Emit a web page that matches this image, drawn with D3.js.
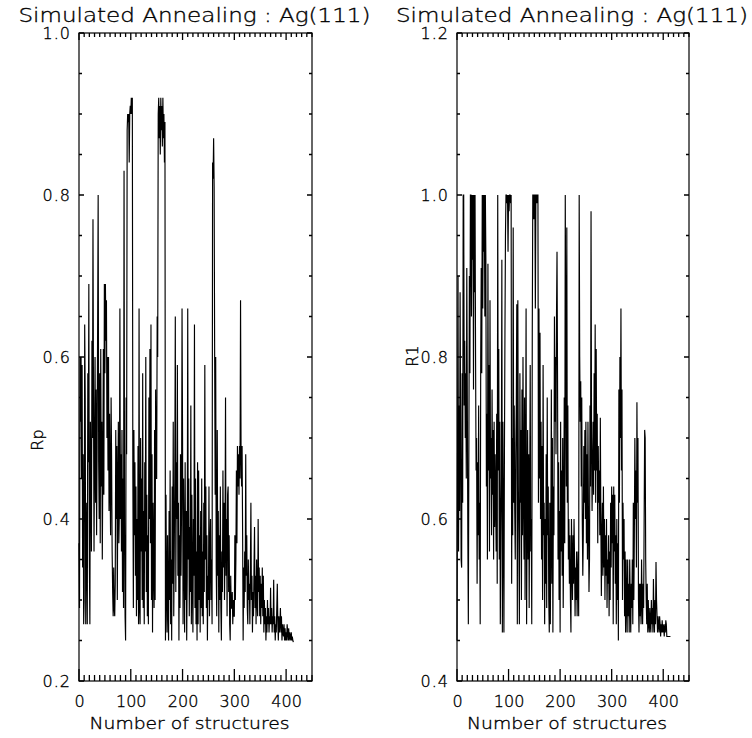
<!DOCTYPE html>
<html>
<head>
<meta charset="utf-8">
<script src="https://cdn.jsdelivr.net/npm/d3@7"></script>
<style>
  html, body { margin: 0; padding: 0; background: #fff; }
  svg { display: block; }
  text { font-family: "DejaVu Sans", sans-serif; font-weight: 200; fill: #000; stroke: #000; stroke-width: 0.35px; }
</style>
</head>
<body>
<svg id="chart" width="752" height="738"></svg>
<script>
// Number of structures on the x axis (shared by both panels)
const xTicks = [0, 100, 200, 300, 400];
const rpTicks = [0.2, 0.4, 0.6, 0.8, 1.0];
const r1Ticks = [0.4, 0.6, 0.8, 1.0, 1.2];
const panelTitle = "Simulated Annealing : Ag(111)";
const xTitle = "Number of structures";

// Pendry R-factor of each structure visited by the annealing run
const rpValues = [
  0.37,0.29,0.60,0.52,0.60,0.45,0.59,0.34,0.48,0.27,
  0.30,0.64,0.55,0.27,0.42,0.36,0.27,0.58,0.47,0.69,
  0.35,0.27,0.52,0.44,0.36,0.62,0.50,0.77,0.55,0.36,
  0.48,0.60,0.42,0.56,0.38,0.49,0.64,0.80,0.47,0.40,
  0.58,0.37,0.61,0.44,0.52,0.35,0.46,0.61,0.43,0.69,
  0.58,0.69,0.62,0.67,0.50,0.60,0.46,0.60,0.41,0.53,
  0.44,0.38,0.55,0.47,0.36,0.31,0.28,0.34,0.29,0.28,
  0.32,0.51,0.40,0.49,0.30,0.44,0.52,0.37,0.41,0.66,
  0.40,0.48,0.36,0.51,0.31,0.45,0.29,0.83,0.40,0.28,
  0.25,0.55,0.48,0.88,0.90,0.89,0.90,0.84,0.90,0.91,
  0.90,0.92,0.90,0.92,0.45,0.29,0.51,0.38,0.47,0.33,
  0.44,0.28,0.40,0.30,0.49,0.27,0.66,0.29,0.27,0.50,
  0.36,0.45,0.30,0.58,0.29,0.41,0.27,0.47,0.36,0.60,
  0.31,0.43,0.28,0.38,0.27,0.55,0.40,0.61,0.37,0.64,
  0.30,0.48,0.26,0.42,0.34,0.29,0.51,0.30,0.56,0.45,
  0.45,0.65,0.60,0.90,0.92,0.87,0.91,0.85,0.92,0.88,
  0.91,0.86,0.92,0.87,0.90,0.84,0.89,0.25,0.43,0.31,
  0.26,0.38,0.29,0.25,0.41,0.30,0.46,0.27,0.35,0.25,
  0.44,0.32,0.52,0.28,0.36,0.45,0.65,0.31,0.47,0.40,
  0.59,0.33,0.42,0.25,0.38,0.29,0.48,0.33,0.41,0.66,
  0.50,0.27,0.45,0.36,0.26,0.47,0.30,0.41,0.25,0.33,
  0.66,0.35,0.45,0.28,0.39,0.31,0.54,0.27,0.43,0.32,
  0.26,0.40,0.33,0.64,0.29,0.45,0.27,0.36,0.25,0.47,
  0.27,0.46,0.30,0.38,0.26,0.41,0.29,0.45,0.28,0.36,
  0.27,0.42,0.31,0.59,0.35,0.44,0.29,0.38,0.25,0.33,
  0.30,0.44,0.28,0.36,0.40,0.30,0.35,0.27,0.84,0.82,
  0.87,0.81,0.60,0.43,0.60,0.34,0.28,0.51,0.33,0.41,
  0.26,0.38,0.30,0.44,0.29,0.25,0.36,0.31,0.46,0.34,
  0.42,0.30,0.37,0.55,0.33,0.40,0.28,0.43,0.44,0.31,
  0.38,0.27,0.25,0.33,0.29,0.29,0.31,0.27,0.30,0.28,
  0.28,0.38,0.30,0.35,0.46,0.37,0.49,0.44,0.48,0.43,
  0.49,0.45,0.67,0.48,0.44,0.49,0.38,0.25,0.34,0.29,
  0.36,0.31,0.48,0.33,0.38,0.29,0.27,0.35,0.30,0.32,
  0.27,0.34,0.42,0.30,0.33,0.26,0.31,0.28,0.34,0.39,
  0.29,0.33,0.27,0.35,0.30,0.28,0.40,0.31,0.34,0.28,
  0.33,0.27,0.32,0.29,0.34,0.28,0.33,0.26,0.30,0.27,
  0.29,0.25,0.28,0.26,0.30,0.27,0.29,0.26,0.28,0.27,
  0.315,0.27,0.29,0.26,0.28,0.27,0.325,0.26,0.28,0.25,
  0.27,0.26,0.29,0.32,0.27,0.25,0.28,0.26,0.27,0.29,
  0.26,0.28,0.25,0.27,0.26,0.255,0.27,0.25,0.265,0.25,
  0.26,0.25,0.27,0.26,0.25,0.265,0.25,0.26,0.255,0.25,
  0.26,0.25,0.255,0.25,0.248
];

// R1 reliability factor of the same structures
const r1Values = [
  0.45,0.67,0.90,0.56,0.74,0.61,0.88,0.72,0.55,0.54,
  0.78,0.62,1.00,1.00,0.74,0.82,0.70,0.78,0.65,0.91,
  0.75,0.58,0.47,0.68,0.90,0.78,1.00,1.00,0.85,1.00,
  0.92,1.00,0.76,1.00,0.88,1.00,0.80,0.66,0.70,0.52,
  0.67,0.58,0.74,0.55,0.62,0.47,0.80,0.91,0.78,1.00,
  0.86,1.00,0.93,1.00,0.85,1.00,0.92,0.64,0.73,0.55,
  0.915,0.66,0.79,0.56,0.87,0.65,0.70,0.58,0.76,0.63,
  0.71,0.55,0.72,0.59,0.68,0.62,0.56,0.73,0.52,1.00,
  0.66,0.81,0.55,0.72,0.47,0.58,0.65,0.92,0.46,0.72,
  0.60,0.46,0.68,0.83,0.95,1.00,1.00,0.99,1.00,0.93,
  1.00,0.98,1.00,1.00,0.99,1.00,0.52,0.70,0.58,0.96,
  0.62,0.74,0.61,0.55,0.68,0.74,0.865,0.47,0.87,0.64,
  0.57,0.47,0.78,0.62,0.71,0.50,0.76,0.58,0.80,0.63,
  0.55,0.75,0.50,0.66,0.86,0.47,0.60,0.71,0.55,0.68,
  0.49,0.63,0.79,0.56,0.60,0.47,0.83,1.00,1.00,0.97,
  1.00,1.00,0.86,1.00,1.00,0.99,1.00,1.00,0.62,0.86,
  0.65,0.83,0.60,0.72,0.55,0.69,0.50,0.79,0.58,0.62,
  0.47,0.60,0.52,0.68,0.49,0.75,0.58,0.64,0.50,0.46,
  0.62,0.47,0.58,0.76,0.52,0.70,0.46,0.64,0.58,0.85,
  0.72,0.80,0.68,0.85,0.93,0.78,0.55,0.67,0.50,0.61,
  0.46,0.72,0.56,0.66,0.53,0.70,0.49,0.60,0.75,0.57,
  1.00,0.82,0.64,0.96,0.62,0.74,0.55,0.60,0.52,0.58,
  0.50,0.46,0.60,0.55,0.50,0.58,0.52,0.60,0.55,0.48,
  0.54,0.50,0.56,0.48,0.53,0.56,0.48,1.00,0.80,0.72,
  0.77,0.64,0.75,0.60,0.53,0.58,0.69,0.62,0.71,0.60,
  0.72,0.57,0.68,0.55,0.72,0.60,0.51,0.55,0.74,0.64,
  0.98,0.70,0.61,0.66,0.72,0.63,0.78,0.66,0.84,0.62,
  0.81,0.66,0.73,0.57,0.69,0.62,0.66,0.58,0.725,0.60,
  0.505,0.58,0.62,0.53,0.64,0.54,0.60,0.50,0.58,0.53,
  0.60,0.49,0.55,0.52,0.58,0.48,0.56,0.50,0.62,0.54,
  0.64,0.57,0.63,0.47,0.64,0.56,0.63,0.52,0.58,0.47,
  0.60,0.50,0.57,0.45,0.76,0.62,0.80,0.70,0.86,0.66,
  0.76,0.50,0.62,0.55,0.60,0.48,0.56,0.46,0.55,0.50,
  0.46,0.55,0.48,0.52,0.46,0.55,0.50,0.46,0.52,0.49,
  0.55,0.47,0.62,0.50,0.58,0.70,0.60,0.66,0.54,0.744,
  0.62,0.70,0.50,0.46,0.52,0.48,0.52,0.47,0.55,0.50,
  0.47,0.52,0.49,0.60,0.71,0.70,0.55,0.50,0.47,0.52,
  0.46,0.50,0.47,0.46,0.49,0.47,0.46,0.50,0.47,0.49,
  0.46,0.526,0.48,0.46,0.50,0.47,0.547,0.50,0.48,0.46,
  0.48,0.47,0.46,0.48,0.47,0.455,0.47,0.46,0.475,0.46,
  0.47,0.465,0.455,0.47,0.46,0.475,0.47,0.455,0.455,0.455,
  0.455,0.455,0.455,0.455,0.455
];

const svg = d3.select("#chart");

const panels = [
  { left: 79,  right: 312, yDomain: [0.2, 1.0], yTicks: rpTicks, yTitle: "Rp", values: rpValues, yTitleX: 43,  yTitleY: 440 },
  { left: 457, right: 689, yDomain: [0.4, 1.2], yTicks: r1Ticks, yTitle: "R1", values: r1Values, yTitleX: 418, yTitleY: 356 }
];
const plotTop = 33, plotBottom = 681;

panels.forEach(p => {
  const g = svg.append("g");
  const x = d3.scaleLinear().domain([0, 450]).range([p.left, p.right]);
  const y = d3.scaleLinear().domain(p.yDomain).range([plotBottom, plotTop]);
  const xMinor = d3.range(0, 451, 10);
  const yMinor = d3.range(p.yDomain[0], p.yDomain[1] + 1e-9, 0.05);
  const isMajorX = v => v % 100 === 0;
  const isMajorY = v => p.yTicks.some(t => Math.abs(t - v) < 1e-6);

  // Tick labels from d3 axes (their tick marks are drawn separately below)
  const bx = g.append("g").attr("transform", `translate(0,${plotBottom})`)
    .call(d3.axisBottom(x).tickValues(xTicks).tickSize(0).tickPadding(15).tickFormat(d3.format("d")));
  bx.select(".domain").remove();
  bx.selectAll("text").attr("font-size", 16).attr("font-family", null);

  const ly = g.append("g").attr("transform", `translate(${p.left},0)`)
    .call(d3.axisLeft(y).tickValues(p.yTicks).tickSize(0).tickPadding(8).tickFormat(d3.format(".1f")));
  ly.select(".domain").remove();
  ly.selectAll("text").attr("font-size", 16).attr("font-family", null).attr("letter-spacing", 1);

  // Inward tick marks on all four sides, as one path per side
  const tickPath = (segs) => segs.map(s => `M${s[0]},${s[1]}L${s[2]},${s[3]}`).join("");
  const xSegsBottom = xMinor.map(v => { const px = x(v); return [px, plotBottom, px, plotBottom - (isMajorX(v) ? 12 : 6)]; });
  const xSegsTop = xMinor.map(v => { const px = x(v); return [px, plotTop, px, plotTop + (isMajorX(v) ? 7 : 4)]; });
  const ySegsLeft = yMinor.map(v => { const py = y(v); return [p.left, py, p.left + (isMajorY(v) ? 5 : 3), py]; });
  const ySegsRight = yMinor.map(v => { const py = y(v); return [p.right, py, p.right - (isMajorY(v) ? 5 : 3), py]; });
  [xSegsBottom, xSegsTop, ySegsLeft, ySegsRight].forEach(segs => {
    g.append("path")
      .attr("d", tickPath(segs))
      .attr("fill", "none")
      .attr("stroke", "#000")
      .attr("stroke-width", 1.3);
  });

  // Plot frame
  g.append("rect")
    .attr("x", p.left).attr("y", plotTop)
    .attr("width", p.right - p.left).attr("height", plotBottom - plotTop)
    .attr("fill", "none").attr("stroke", "#000").attr("stroke-width", 1.2);

  // Data trace
  const line = d3.line().x((d, i) => x(i)).y(d => y(d));
  g.append("path")
    .datum(p.values)
    .attr("d", line)
    .attr("fill", "none")
    .attr("stroke", "#000")
    .attr("stroke-width", 1.15);

  // Titles
  const cx = (p.left + p.right) / 2;
  g.append("text")
    .attr("x", cx - 1).attr("y", 22)
    .attr("text-anchor", "middle")
    .attr("font-size", 20)
    .attr("textLength", 352).attr("lengthAdjust", "spacingAndGlyphs")
    .text(panelTitle);

  g.append("text")
    .attr("x", cx - 6).attr("y", 729)
    .attr("text-anchor", "middle")
    .attr("font-size", 16)
    .attr("textLength", 200).attr("lengthAdjust", "spacingAndGlyphs")
    .text(xTitle);

  g.append("text")
    .attr("transform", `translate(${p.yTitleX},${p.yTitleY}) rotate(-90)`)
    .attr("text-anchor", "middle")
    .attr("font-size", 16)
    .text(p.yTitle);
});
</script>
</body>
</html>
